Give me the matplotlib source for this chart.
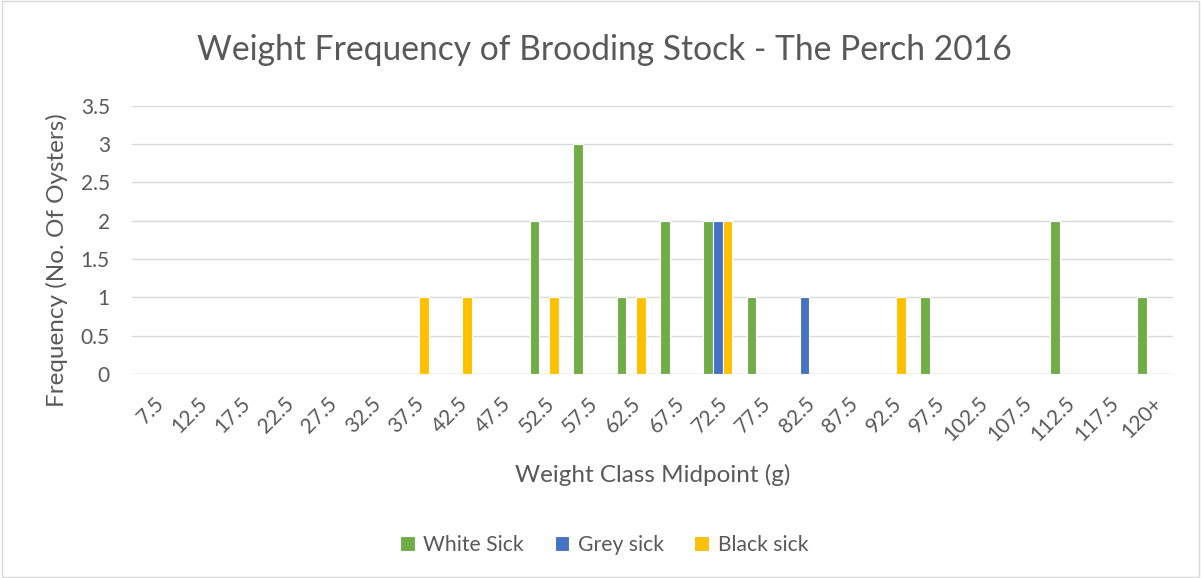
import matplotlib.pyplot as plt
import numpy as np

plt.rcParams['font.family'] = ['Lato', 'DejaVu Sans']

# weight classes (g)
classes = ['7.5', '12.5', '17.5', '22.5', '27.5', '32.5', '37.5', '42.5', '47.5',
           '52.5', '57.5', '62.5', '67.5', '72.5', '77.5', '82.5', '87.5', '92.5',
           '97.5', '102.5', '107.5', '112.5', '117.5', '120+']
white_sick = [0, 0, 0, 0, 0, 0, 0, 0, 0, 2, 3, 1, 2, 2, 1, 0, 0, 0, 1, 0, 0, 2, 0, 1]
grey_sick = [0, 0, 0, 0, 0, 0, 0, 0, 0, 0, 0, 0, 0, 2, 0, 1, 0, 0, 0, 0, 0, 0, 0, 0]
black_sick = [0, 0, 0, 0, 0, 0, 1, 1, 0, 1, 0, 1, 0, 2, 0, 0, 0, 1, 0, 0, 0, 0, 0, 0]

series = [('White Sick', white_sick, '#70AD47'),
          ('Grey sick', grey_sick, '#4472C4'),
          ('Black sick', black_sick, '#FFC000')]

fig = plt.figure(figsize=(12.01, 5.78), dpi=100)
# chart border
fig.patches.append(plt.Rectangle((0.002, 0.002), 0.996, 0.996, transform=fig.transFigure,
                                 fill=False, edgecolor='#D9D9D9', lw=1))
ax = fig.add_axes([0.11, 0.353, 0.867, 0.464])

x = np.arange(len(classes))
w = 1 / 4.5
for i, (name, vals, col) in enumerate(series):
    ax.bar(x + (i - 1) * w, vals, width=w, color=col, edgecolor='white', linewidth=0.8,
           label=name, zorder=3)

ax.set_xlim(-0.5, len(classes) - 0.5)
ax.set_ylim(0, 3.5)
ax.set_yticks(np.arange(0, 3.51, 0.5))
ax.set_yticklabels(['0', '0.5', '1', '1.5', '2', '2.5', '3', '3.5'])
ax.set_xticks(x)
ax.set_xticklabels(classes, rotation=45, ha='right', rotation_mode='anchor')
ax.grid(axis='y', color='#D9D9D9', lw=1, zorder=0)
for s in ax.spines.values():
    s.set_visible(False)
ax.axhline(0, color='#D9D9D9', lw=1, zorder=1)
ax.tick_params(length=0, labelsize=15, colors='#595959')
ax.tick_params(axis='y', pad=16)
ax.tick_params(axis='x', pad=14)

fig.text(0.503, 1 - 50 / 578, 'Weight Frequency of Brooding Stock - The Perch 2016',
         fontsize=24.2, color='#595959', ha='center', va='center')
ax.set_ylabel('Frequency (No. Of Oysters)', fontsize=17.5, color='#595959')
ax.yaxis.label.set_va('center')
ax.yaxis.set_label_coords(-0.072, 0.425)
ax.set_xlabel('Weight Class Midpoint (g)', fontsize=17.5, color='#595959')
ax.xaxis.label.set_va('center')
ax.xaxis.set_label_coords(0.5, -0.377)

fig.legend(loc='center', bbox_to_anchor=(0.503, 1 - 545 / 578), ncol=3, frameon=False,
           fontsize=15.2, labelcolor='#595959', handlelength=0.7, handleheight=0.7,
           columnspacing=1.45, handletextpad=0.4)

fig.savefig('out.png', dpi=100)
